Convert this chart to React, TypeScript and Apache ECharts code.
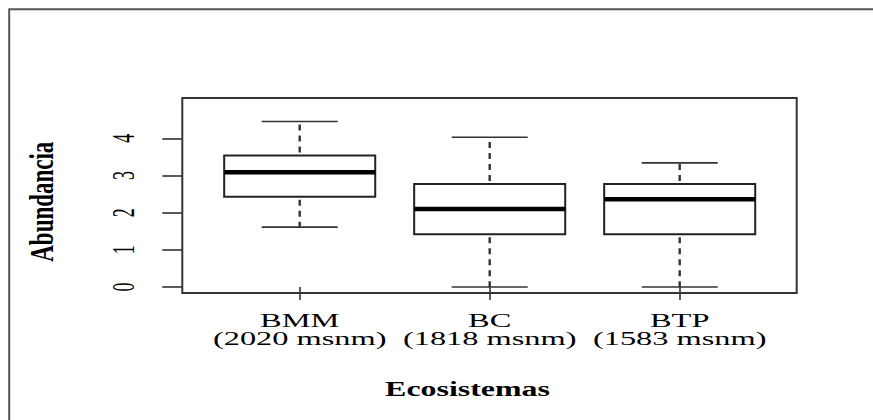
import React, { useEffect, useRef } from "react";
import * as echarts from "echarts";

const categories = ["BMM", "BC", "BTP"];
const altitudes = ["(2020 msnm)", "(1818 msnm)", "(1583 msnm)"];
const mins = [1.61, 0.0, 0.0];
const q1s = [2.43, 1.42, 1.42];
const medians = [3.09, 2.1, 2.36];
const q3s = [3.54, 2.77, 2.77];
const maxs = [4.45, 4.03, 3.34];
const yTicks = [0, 1, 2, 3, 4];
const xTitle = "Ecosistemas";
const yTitle = "Abundancia";

const FONT = "'Liberation Serif', 'Times New Roman', serif";

function renderItem(params: any, api: any) {
  const i = api.value(0);
  const pMin = api.coord([i, api.value(1)]);
  const pQ1 = api.coord([i, api.value(2)]);
  const pMed = api.coord([i, api.value(3)]);
  const pQ3 = api.coord([i, api.value(4)]);
  const pMax = api.coord([i, api.value(5)]);
  const band = api.size([1, 0])[0];
  const cx = pMed[0];
  const bw = band * 0.795;
  const cw = band * 0.4;
  const thin = { stroke: "#333", lineWidth: 1.6 };
  const dash = { stroke: "#333", lineWidth: 2.4, lineDash: [6, 5], lineDashOffset: 7.5 };
  return {
    type: "group",
    children: [
      { type: "line", shape: { x1: cx, y1: pQ3[1], x2: cx, y2: pMax[1] }, style: dash },
      { type: "line", shape: { x1: cx, y1: pQ1[1], x2: cx, y2: pMin[1] }, style: dash },
      { type: "line", shape: { x1: cx - cw / 2, y1: pMax[1], x2: cx + cw / 2, y2: pMax[1] }, style: thin },
      { type: "line", shape: { x1: cx - cw / 2, y1: pMin[1], x2: cx + cw / 2, y2: pMin[1] }, style: thin },
      {
        type: "rect",
        shape: { x: cx - bw / 2, y: pQ3[1], width: bw, height: pQ1[1] - pQ3[1] },
        style: { fill: "#fff", stroke: "#222", lineWidth: 2 },
      },
      {
        type: "line",
        shape: { x1: cx - bw / 2, y1: pMed[1], x2: cx + bw / 2, y2: pMed[1] },
        style: { stroke: "#000", lineWidth: 4.5 },
      },
    ],
  };
}

function txt(text: string, x: number, y: number, size: number, bold: boolean, opts: any = {}) {
  return {
    type: "text",
    x,
    y,
    rotation: opts.rotation || 0,
    scaleX: opts.scaleX || 1,
    scaleY: opts.scaleY || 1,
    z: 10,
    style: {
      text,
      fontSize: size,
      fontFamily: FONT,
      fontWeight: bold ? "bold" : "normal",
      fill: "#000",
      align: "center",
      verticalAlign: "middle",
      textAlign: "center",
      textVerticalAlign: "middle",
    },
  };
}

export default function App() {
  const ref = useRef<HTMLDivElement>(null);
  useEffect(() => {
    document.body.style.margin = "0";
    document.body.style.overflow = "hidden";
    const chart = echarts.init(ref.current!, null, { renderer: "svg" });
    const rows = categories.map((_, i) => [i, mins[i], q1s[i], medians[i], q3s[i], maxs[i]]);
    chart.setOption({
      animation: false,
      backgroundColor: "#fff",
      grid: { left: 204.7, right: 98.3, top: 98, bottom: 127 },
      xAxis: {
        type: "category",
        data: categories,
        axisLine: { show: false },
        axisTick: { show: true, alignWithLabel: true, length: 13, lineStyle: { color: "#333", width: 1.6 } },
        axisLabel: { show: false },
        splitLine: { show: false },
      },
      yAxis: {
        type: "value",
        min: -0.161,
        max: 5.084,
        offset: 22.4,
        axisLine: { show: false },
        axisTick: { show: true, length: 20, customValues: yTicks, lineStyle: { color: "#333", width: 1.6 } },
        axisLabel: { show: false },
        splitLine: { show: false },
      },
      series: [
        {
          type: "custom",
          data: rows,
          encode: { x: 0, y: [1, 2, 3, 4, 5] },
          renderItem,
          clip: false,
        },
      ],
    });

    const elements: any[] = [];
    elements.push({
      type: "polyline",
      shape: { points: [[9.2, 430], [9.2, 9.3], [880, 9.3]] },
      style: { fill: "none", stroke: "#555", lineWidth: 2 },
    });
    elements.push({
      type: "rect",
      shape: { x: 182.3, y: 98, width: 614.4, height: 195 },
      style: { fill: "none", stroke: "#333", lineWidth: 2 },
      z: 5,
    });
    categories.forEach((c, i) => {
      const p = chart.convertToPixel({ seriesIndex: 0 }, [i, 0]) as number[];
      elements.push(txt(c, p[0], 321, 18, false, { scaleX: 1.8 }));
      elements.push(txt(altitudes[i], p[0], 339, 18, false, { scaleX: 1.8 }));
    });
    yTicks.forEach((v) => {
      const y = chart.convertToPixel({ yAxisIndex: 0 }, v) as number;
      elements.push(txt(String(v), 123.5, y, 18, false, { rotation: Math.PI / 2, scaleY: 1.75 }));
    });
    elements.push(txt(xTitle, 467.5, 388.7, 21, true, { scaleX: 1.52 }));
    elements.push(txt(yTitle, 41, 201.7, 23, true, { rotation: Math.PI / 2, scaleY: 1.5 }));
    chart.setOption({ graphic: { elements } });

    return () => chart.dispose();
  }, []);
  return <div ref={ref} style={{ width: 873, height: 420 }} />;
}
